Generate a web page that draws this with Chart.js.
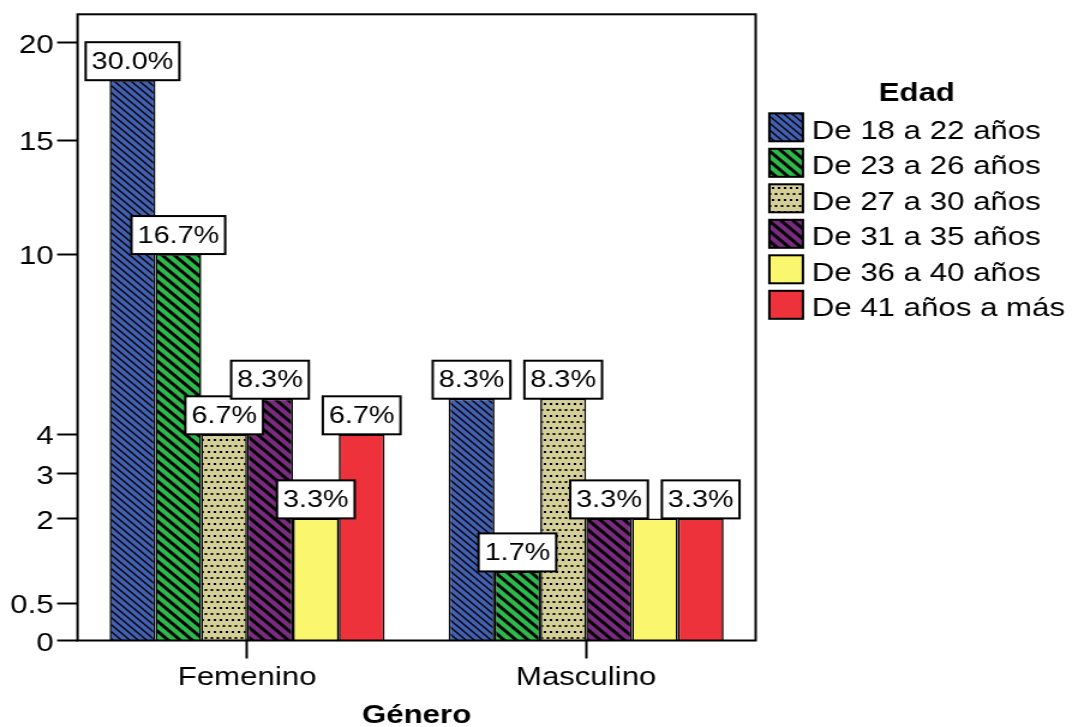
<!DOCTYPE html>
<html>
<head>
<meta charset="utf-8">
<title>Edad por Género</title>
<script src="https://cdn.jsdelivr.net/npm/chart.js@4.4.1/dist/chart.umd.min.js"></script>
<style>
    html, body { margin: 0; padding: 0; background: #fff; overflow: hidden; }
    /* the original picture is stretched sideways, so draw narrow and widen */
    #wrap { width: 898px; height: 727px; transform: scaleX(1.2004); transform-origin: 0 0; }
</style>
</head>
<body>
<div id="wrap"><canvas id="grafico" width="898" height="727"></canvas></div>
<script>
var generos = ['Femenino', 'Masculino'];
var edades = ['De 18 a 22 años', 'De 23 a 26 años', 'De 27 a 30 años', 'De 31 a 35 años', 'De 36 a 40 años', 'De 41 años a más'];
var edad18a22 = [18, 5];
var edad23a26 = [10, 1];
var edad27a30 = [4, 5];
var edad31a35 = [5, 2];
var edad36a40 = [2, 2];
var edad41mas = [4, 2];
var yTicks = [0, 0.5, 2, 3, 4, 10, 15, 20];
var yMax = 21.6;

(function () {
    'use strict';

    var series = [edad18a22, edad23a26, edad27a30, edad31a35, edad36a40, edad41mas];
    var total = series.reduce(function (acc, s) {
        return acc + s.reduce(function (a, b) { return a + b; }, 0);
    }, 0);
    var FONT = '"Liberation Sans", Arial, Helvetica, sans-serif';

    function tile(w, h, bg) {
        var c = document.createElement('canvas');
        c.width = w;
        c.height = h;
        var g = c.getContext('2d');
        g.fillStyle = bg;
        g.fillRect(0, 0, w, h);
        return { c: c, g: g };
    }

    function stripes(bg, size, lw) {
        var t = tile(size, size, bg);
        t.g.strokeStyle = '#000';
        t.g.lineWidth = lw;
        t.g.beginPath();
        [-size, 0, size].forEach(function (k) {
            t.g.moveTo(k - 1, -1);
            t.g.lineTo(k + size + 1, size + 1);
        });
        t.g.stroke();
        return t.g.createPattern(t.c, 'repeat');
    }

    function dots(bg) {
        var t = tile(5, 12, bg);
        t.g.fillStyle = '#000';
        t.g.fillRect(0.5, 1, 2, 2);
        t.g.fillRect(3, 7, 2, 2);
        return t.g.createPattern(t.c, 'repeat');
    }

    var fills = [
        stripes('#4360b0', 7, 1.3),
        stripes('#2db84b', 10, 2.9),
        dots('#d4cf96'),
        stripes('#7a2a7f', 10, 2.9),
        '#faf66e',
        '#ee323c'
    ];

    // SPSS-like square root axis: position follows sqrt(value + 1)
    function tf(v) {
        return Math.sqrt(v + 1);
    }

    class SqrtScale extends Chart.LinearScale {
        getPixelForValue(value) {
            if (value === null || value === undefined || isNaN(value)) {
                return NaN;
            }
            var t0 = tf(this.min);
            var t1 = tf(this.max);
            return this.getPixelForDecimal((tf(value) - t0) / (t1 - t0));
        }
        getValueForPixel(pixel) {
            var t0 = tf(this.min);
            var t1 = tf(this.max);
            var t = t0 + this.getDecimalForPixel(pixel) * (t1 - t0);
            return t * t - 1;
        }
    }
    SqrtScale.id = 'raiz';
    SqrtScale.defaults = {};
    Chart.register(SqrtScale);

    function pct(v) {
        return (v / total * 100).toFixed(1) + '%';
    }

    var marco = {
        id: 'marco',
        afterDatasetsDraw: function (chart) {
            var a = chart.chartArea;
            var ctx = chart.ctx;
            ctx.save();
            ctx.strokeStyle = '#000';
            ctx.lineWidth = 2;
            ctx.strokeRect(a.left, a.top, a.right - a.left, a.bottom - a.top);
            ctx.restore();
        }
    };

    // percentage boxes; like SPSS, a box that would cover an earlier one is left out
    var etiquetas = {
        id: 'etiquetas',
        afterDatasetsDraw: function (chart) {
            var ctx = chart.ctx;
            var placed = [];
            ctx.save();
            ctx.font = '24px ' + FONT;
            ctx.textAlign = 'center';
            ctx.textBaseline = 'middle';
            chart.data.datasets.forEach(function (ds, i) {
                chart.getDatasetMeta(i).data.forEach(function (bar, j) {
                    var txt = pct(ds.data[j]);
                    var w = ctx.measureText(txt).width + 10;
                    var h = 38;
                    var x = bar.x - w / 2;
                    var y = bar.y - h;
                    var hit = placed.some(function (p) {
                        var ox = Math.min(x + w, p.x + p.w) - Math.max(x, p.x);
                        var oy = Math.min(y + h, p.y + p.h) - Math.max(y, p.y);
                        return ox > 3 && oy > 3;
                    });
                    if (hit) {
                        return;
                    }
                    placed.push({ x: x, y: y, w: w, h: h });
                    ctx.fillStyle = '#fff';
                    ctx.fillRect(x, y, w, h);
                    ctx.lineWidth = 2;
                    ctx.strokeStyle = '#000';
                    ctx.strokeRect(x, y, w, h);
                    ctx.fillStyle = '#000';
                    ctx.fillText(txt, bar.x, y + h / 2 + 1);
                });
            });
            ctx.restore();
        }
    };

    var leyenda = {
        id: 'leyenda',
        afterDraw: function (chart) {
            var ctx = chart.ctx;
            var left = chart.chartArea.right + 11.4;
            ctx.save();
            ctx.fillStyle = '#000';
            ctx.textBaseline = 'middle';
            ctx.textAlign = 'center';
            ctx.font = 'bold 26px ' + FONT;
            ctx.fillText('Edad', left + 122.8, 93.5);
            ctx.textAlign = 'left';
            ctx.font = '26px ' + FONT;
            chart.data.datasets.forEach(function (ds, i) {
                var top = 113.3 + i * 35.5;
                ctx.fillStyle = ds.backgroundColor;
                ctx.fillRect(left, top, 28, 28);
                ctx.lineWidth = 2;
                ctx.strokeStyle = '#000';
                ctx.strokeRect(left, top, 28, 28);
                ctx.fillStyle = '#000';
                ctx.fillText(ds.label, left + 35.3, top + 18.4);
            });
            ctx.restore();
        }
    };

    Chart.defaults.font.family = FONT;
    Chart.defaults.color = '#000';

    new Chart(document.getElementById('grafico').getContext('2d'), {
        type: 'bar',
        data: {
            labels: generos,
            datasets: series.map(function (s, i) {
                return {
                    label: edades[i],
                    data: s,
                    backgroundColor: fills[i],
                    borderColor: '#000',
                    borderWidth: 1.6,
                    categoryPercentage: 0.811,
                    barPercentage: 1
                };
            })
        },
        options: {
            responsive: false,
            animation: false,
            layout: { padding: { top: 14.3, left: 0, right: 268.5, bottom: 0 } },
            plugins: {
                tooltip: { enabled: false },
                legend: { display: false }
            },
            scales: {
                x: {
                    border: { display: false },
                    grid: {
                        offset: false,
                        drawOnChartArea: false,
                        tickLength: 18,
                        tickColor: '#000',
                        tickWidth: 2
                    },
                    ticks: { padding: 4, font: { size: 26 } },
                    title: {
                        display: true,
                        text: 'Género',
                        font: { size: 26, weight: 'bold', lineHeight: 0.85 },
                        padding: { top: 0, bottom: 0 }
                    },
                    afterFit: function (scale) {
                        scale.height = 86.5;
                        scale.paddingLeft = 0;
                        scale.paddingRight = 0;
                    }
                },
                y: {
                    type: 'raiz',
                    min: 0,
                    max: yMax,
                    border: { display: false },
                    grid: {
                        drawOnChartArea: false,
                        tickLength: 17,
                        tickColor: '#000',
                        tickWidth: 2
                    },
                    ticks: {
                        autoSkip: false,
                        padding: 3,
                        labelOffset: 3,
                        font: { size: 26 },
                        callback: function (v) {
                            return String(v);
                        }
                    },
                    afterBuildTicks: function (scale) {
                        scale.ticks = yTicks.map(function (v) {
                            return { value: v };
                        });
                    },
                    afterFit: function (scale) {
                        scale.width = 64.6;
                        scale.paddingTop = 0;
                        scale.paddingBottom = 0;
                    }
                }
            }
        },
        plugins: [marco, etiquetas, leyenda]
    });
})();
</script>
</body>
</html>
